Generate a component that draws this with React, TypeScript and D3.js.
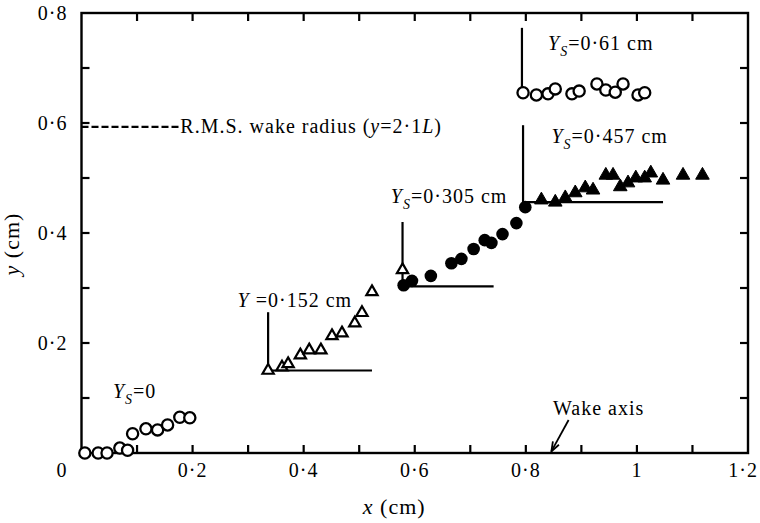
import React, { useEffect, useRef } from 'react';
import * as d3 from 'd3';

// points, [x (cm), y (cm)]
const ysZero = [
  [0.006, 0.0], [0.03, 0.0], [0.046, 0.0], [0.069, 0.009], [0.083, 0.005],
  [0.092, 0.035], [0.116, 0.044], [0.137, 0.042], [0.155, 0.051], [0.177, 0.065], [0.195, 0.064],
];
const ys152 = [
  [0.336, 0.15], [0.361, 0.156], [0.372, 0.162], [0.394, 0.178], [0.41, 0.187], [0.431, 0.187],
  [0.451, 0.213], [0.469, 0.218], [0.492, 0.236], [0.505, 0.255], [0.523, 0.293], [0.578, 0.333],
];
const ys305 = [
  [0.58, 0.305], [0.595, 0.313], [0.629, 0.322], [0.666, 0.345], [0.684, 0.353], [0.706, 0.371],
  [0.726, 0.387], [0.738, 0.382], [0.758, 0.398], [0.783, 0.418], [0.799, 0.447],
];
const ys457 = [
  [0.828, 0.46], [0.853, 0.456], [0.871, 0.464], [0.889, 0.473], [0.907, 0.482], [0.921, 0.478],
  [0.944, 0.505], [0.957, 0.505], [0.97, 0.484], [0.984, 0.491], [0.998, 0.5], [1.014, 0.5],
  [1.025, 0.509], [1.047, 0.496], [1.083, 0.505], [1.118, 0.505],
];
const ys61 = [
  [0.795, 0.655], [0.819, 0.651], [0.84, 0.653], [0.853, 0.662], [0.883, 0.653], [0.896, 0.658],
  [0.928, 0.671], [0.944, 0.66], [0.961, 0.656], [0.975, 0.671], [1.002, 0.651], [1.014, 0.655],
];

// slot markers: vertical line at x from top down to base, then along base to end
const slotLines = [
  { x: 0.336, top: 0.256, base: 0.15, end: 0.523 },
  { x: 0.578, top: 0.42, base: 0.303, end: 0.742 },
  { x: 0.795, top: 0.596, base: 0.456, end: 1.047 },
  { x: 0.793, top: 0.773, base: 0.658, end: null },
];

const xTickValues = [0.1, 0.2, 0.3, 0.4, 0.5, 0.6, 0.7, 0.8, 0.9, 1.0, 1.1];
const yTickValues = [0.1, 0.2, 0.3, 0.4, 0.5, 0.6, 0.7];
const xTickLabels = [[0.2, '0·2'], [0.4, '0·4'], [0.6, '0·6'], [0.8, '0·8'], [1.0, '1'], [1.2, '1·2']];
const yTickLabels = [[0.2, '0·2'], [0.4, '0·4'], [0.6, '0·6'], [0.8, '0·8']];

const rmsRadius = 0.593;

const slotLabels = [
  { x: 0.84, y: 0.733, sub: 'S', rest: '=0·61 cm' },
  { x: 0.846, y: 0.564, sub: 'S', rest: '=0·457 cm' },
  { x: 0.557, y: 0.455, sub: 'S', rest: '=0·305 cm' },
  { x: 0.281, y: 0.265, sub: '', rest: ' =0·152 cm' },
  { x: 0.0565, y: 0.1, sub: 'S', rest: '=0' },
];

const FONT = '"Liberation Serif", "DejaVu Serif", serif';

function App() {
  const svgRef = useRef(null);

  useEffect(() => {
    const svg = d3.select(svgRef.current);
    svg.selectAll('*').remove();

    const width = 760;
    const height = 523;
    const margin = { top: 13, right: 12, bottom: 70, left: 81.5 };

    const x = d3.scaleLinear().domain([0, 1.2]).range([margin.left, width - margin.right]);
    const y = d3.scaleLinear().domain([0, 0.8]).range([height - margin.bottom, margin.top]);

    const g = svg.append('g')
      .style('font-family', FONT)
      .style('fill', '#000')
      .style('letter-spacing', '1px');

    // frame
    g.append('rect')
      .attr('x', x(0)).attr('y', y(0.8))
      .attr('width', x(1.2) - x(0)).attr('height', y(0) - y(0.8))
      .attr('fill', 'none').attr('stroke', '#000').attr('stroke-width', 2.4);

    const tickLen = 8;
    // inward ticks on all four sides
    xTickValues.forEach(v => {
      g.append('line').attr('x1', x(v)).attr('x2', x(v)).attr('y1', y(0)).attr('y2', y(0) - tickLen)
        .attr('stroke', '#000').attr('stroke-width', 2.2);
      g.append('line').attr('x1', x(v)).attr('x2', x(v)).attr('y1', y(0.8)).attr('y2', y(0.8) + tickLen)
        .attr('stroke', '#000').attr('stroke-width', 2.2);
    });
    yTickValues.forEach(v => {
      g.append('line').attr('x1', x(0)).attr('x2', x(0) + tickLen).attr('y1', y(v)).attr('y2', y(v))
        .attr('stroke', '#000').attr('stroke-width', 2.2);
      g.append('line').attr('x1', x(1.2)).attr('x2', x(1.2) - tickLen).attr('y1', y(v)).attr('y2', y(v))
        .attr('stroke', '#000').attr('stroke-width', 2.2);
    });

    // tick labels (the last one is kept inside the page edge)
    xTickLabels.forEach(([v, t]) => {
      const last = v === 1.2;
      g.append('text').attr('x', last ? width - 2 : x(v)).attr('y', y(0) + 24)
        .attr('text-anchor', last ? 'end' : 'middle').style('font-size', '20px').text(t);
    });
    yTickLabels.forEach(([v, t]) => {
      g.append('text').attr('x', x(0) - 14).attr('y', y(v) + 7)
        .attr('text-anchor', 'end').style('font-size', '20px').text(t);
    });
    g.append('text').attr('x', x(0) - 14).attr('y', y(0) + 24)
      .attr('text-anchor', 'end').style('font-size', '20px').text('0');

    // axis titles
    const xt = g.append('text').attr('x', x(0.563)).attr('y', height - 9)
      .attr('text-anchor', 'middle').style('font-size', '22px');
    xt.append('tspan').style('font-style', 'italic').text('x');
    xt.append('tspan').text(' (cm)');
    const yt = g.append('text').attr('transform', `translate(19,${y(0.38)}) rotate(-90)`)
      .attr('text-anchor', 'middle').style('font-size', '22px');
    yt.append('tspan').style('font-style', 'italic').text('y');
    yt.append('tspan').text(' (cm)');

    // r.m.s. wake radius
    g.append('line').attr('x1', x(0)).attr('x2', x(0.175)).attr('y1', y(rmsRadius)).attr('y2', y(rmsRadius))
      .attr('stroke', '#000').attr('stroke-width', 2.2).attr('stroke-dasharray', '7,3');
    const rt = g.append('text').attr('x', x(0.178)).attr('y', y(0.582)).style('font-size', '20px');
    rt.append('tspan').text('R.M.S. wake radius (');
    rt.append('tspan').style('font-style', 'italic').text('y');
    rt.append('tspan').text('=2·1');
    rt.append('tspan').style('font-style', 'italic').text('L');
    rt.append('tspan').text(')');

    // slot markers
    slotLines.forEach(s => {
      g.append('line').attr('x1', x(s.x)).attr('x2', x(s.x)).attr('y1', y(s.top)).attr('y2', y(s.base))
        .attr('stroke', '#000').attr('stroke-width', 2.2);
      if (s.end != null) {
        g.append('line').attr('x1', x(s.x)).attr('x2', x(s.end)).attr('y1', y(s.base)).attr('y2', y(s.base))
          .attr('stroke', '#000').attr('stroke-width', 2.2);
      }
    });

    slotLabels.forEach(l => {
      const t = g.append('text').attr('x', x(l.x)).attr('y', y(l.y)).style('font-size', '20px');
      t.append('tspan').style('font-style', 'italic').text('Y');
      if (l.sub) {
        t.append('tspan').attr('dy', 6).style('font-style', 'italic').style('font-size', '14px').text(l.sub);
        t.append('tspan').attr('dy', -6).text(l.rest);
      } else {
        t.append('tspan').text(l.rest);
      }
    });

    // wake axis note
    g.append('text').attr('x', x(0.849)).attr('y', y(0.069)).style('font-size', '20px').text('Wake axis');
    const ax0 = [x(0.877), y(0.06)];
    const ax1 = [x(0.846), y(0.003)];
    g.append('line').attr('x1', ax0[0]).attr('y1', ax0[1]).attr('x2', ax1[0]).attr('y2', ax1[1])
      .attr('stroke', '#000').attr('stroke-width', 1.8);
    const ang = Math.atan2(ax1[1] - ax0[1], ax1[0] - ax0[0]);
    const ah = 10;
    const p1 = [ax1[0] - ah * Math.cos(ang - 0.35), ax1[1] - ah * Math.sin(ang - 0.35)];
    const p2 = [ax1[0] - ah * Math.cos(ang + 0.35), ax1[1] - ah * Math.sin(ang + 0.35)];
    g.append('path').attr('d', `M${p1[0]},${p1[1]}L${ax1[0]},${ax1[1]}L${p2[0]},${p2[1]}`)
      .attr('fill', 'none').attr('stroke', '#000').attr('stroke-width', 1.8);

    // markers
    const openCircle = (data) => g.append('g').selectAll('circle').data(data).enter().append('circle')
      .attr('cx', d => x(d[0])).attr('cy', d => y(d[1])).attr('r', 5.6)
      .attr('fill', '#fff').attr('stroke', '#000').attr('stroke-width', 2.3);
    const tri = d3.symbol().type(d3.symbolTriangle);
    const triangles = (data, filled, size) => g.append('g').selectAll('path').data(data).enter().append('path')
      .attr('transform', d => `translate(${x(d[0])},${y(d[1])})`)
      .attr('d', tri.size(size)())
      .attr('fill', filled ? '#000' : '#fff').attr('stroke', '#000').attr('stroke-width', filled ? 1 : 2.2);

    openCircle(ysZero);
    triangles(ys152, false, 55);
    g.append('g').selectAll('circle').data(ys305).enter().append('circle')
      .attr('cx', d => x(d[0])).attr('cy', d => y(d[1])).attr('r', 6.3).attr('fill', '#000');
    triangles(ys457, true, 80);
    openCircle(ys61);
  }, []);

  return (
    <svg ref={svgRef} width={760} height={523}
      style={{ position: 'absolute', left: 0, top: 0, background: '#fff' }} />
  );
}

export default App;
